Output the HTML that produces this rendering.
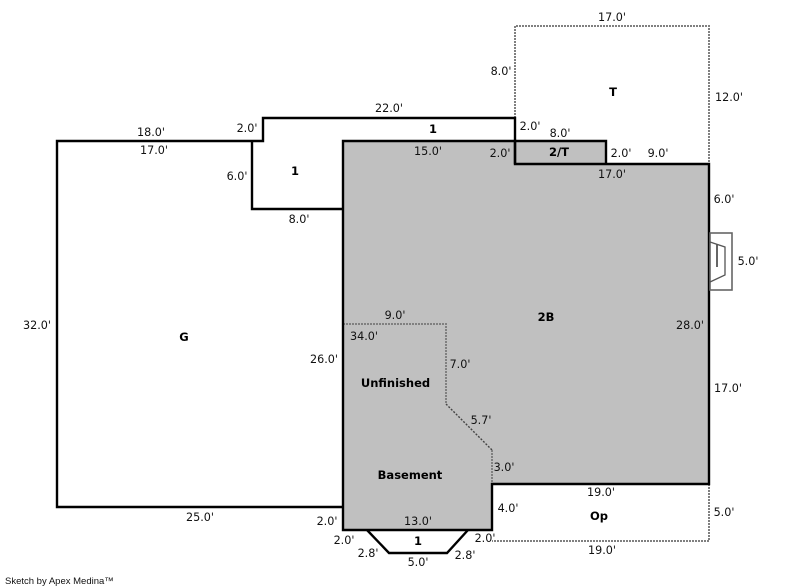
<!DOCTYPE html>
<html><head><meta charset="utf-8"><title>Sketch</title>
<style>
html,body{margin:0;padding:0;background:#fff;width:800px;height:587px;overflow:hidden}
svg{display:block}
text{font-family:"DejaVu Sans","Liberation Sans",sans-serif;font-size:11.2px;fill:#111;text-anchor:middle}
.b{font-weight:bold;fill:#000;font-size:11.5px}
.l{fill:none;stroke:#000;stroke-width:2.4}
.d{fill:none;stroke:#808080;stroke-width:2;stroke-dasharray:2 1}
</style></head><body>
<svg width="800" height="587" viewBox="0 0 800 587">
<polygon points="343,141 515,141 515,164 709,164 709,484 492,484 492,530 343,530" fill="#c0c0c0"/>
<rect x="515" y="141" width="91" height="23" fill="#c0c0c0"/>
<polyline class="d" points="515,118 515,26 709,26 709,164"/>
<polyline class="d" points="709,484 709,541 492,541"/>
<polyline class="d" points="343,324 446,324 446,404"/>
<polyline fill="none" stroke="#444" stroke-width="1.4" stroke-dasharray="2 1.5" points="446,404 492,450"/>
<polyline class="d" points="492,450 492,484"/>
<polyline class="l" points="343,507 57,507 57,141 263,141 263,118 515,118 515,164"/>
<polyline class="l" points="252,141 252,209 343,209"/>
<polygon class="l" points="343,141 515,141 515,164 709,164 709,484 492,484 492,530 343,530"/>
<polyline class="l" points="515,141 606,141 606,164"/>
<polyline class="l" points="367,530 389,553 447,553 468,530"/>
<rect x="710" y="233" width="22" height="57" fill="none" stroke="#666" stroke-width="1.6"/>
<polyline fill="none" stroke="#555" stroke-width="1.3" points="710,242 725,247 725,275 710,282"/>
<line x1="717" y1="244" x2="717" y2="267" stroke="#555" stroke-width="1.8"/>
<g>
<text x="612" y="21">17.0'</text>
<text x="501" y="75">8.0'</text>
<text x="729" y="101">12.0'</text>
<text x="389" y="112">22.0'</text>
<text x="151" y="136">18.0'</text>
<text x="247" y="132">2.0'</text>
<text x="530" y="130">2.0'</text>
<text x="560" y="137">8.0'</text>
<text x="154" y="154">17.0'</text>
<text x="428" y="155">15.0'</text>
<text x="500" y="157">2.0'</text>
<text x="621" y="157">2.0'</text>
<text x="658" y="157">9.0'</text>
<text x="612" y="178">17.0'</text>
<text x="237" y="180">6.0'</text>
<text x="724" y="203">6.0'</text>
<text x="299" y="223">8.0'</text>
<text x="748" y="265">5.0'</text>
<text x="395" y="319">9.0'</text>
<text x="37" y="329">32.0'</text>
<text x="690" y="329">28.0'</text>
<text x="364" y="340">34.0'</text>
<text x="324" y="363">26.0'</text>
<text x="460" y="368">7.0'</text>
<text x="728" y="392">17.0'</text>
<text x="481" y="424">5.7'</text>
<text x="504" y="471">3.0'</text>
<text x="601" y="496">19.0'</text>
<text x="508" y="512">4.0'</text>
<text x="724" y="516">5.0'</text>
<text x="200" y="521">25.0'</text>
<text x="327" y="525">2.0'</text>
<text x="418" y="525">13.0'</text>
<text x="344" y="544">2.0'</text>
<text x="485" y="542">2.0'</text>
<text x="368" y="557">2.8'</text>
<text x="465" y="559">2.8'</text>
<text x="602" y="554">19.0'</text>
<text x="418" y="566">5.0'</text>
</g>
<g class="b">
<text class="b" x="613" y="96">T</text>
<text class="b" x="433" y="133">1</text>
<text class="b" x="559" y="156">2/T</text>
<text class="b" x="295" y="175">1</text>
<text class="b" x="546" y="321">2B</text>
<text class="b" x="184" y="341">G</text>
<text class="b" x="395.500" y="387">Unfinished</text>
<text class="b" x="410" y="479">Basement</text>
<text class="b" x="599" y="520">Op</text>
<text class="b" x="418" y="545">1</text>
</g>
<text x="5" y="584" style="text-anchor:start;font-family:'Liberation Sans',sans-serif;font-size:9.5px">Sketch by Apex Medina™</text>
</svg>
</body></html>
